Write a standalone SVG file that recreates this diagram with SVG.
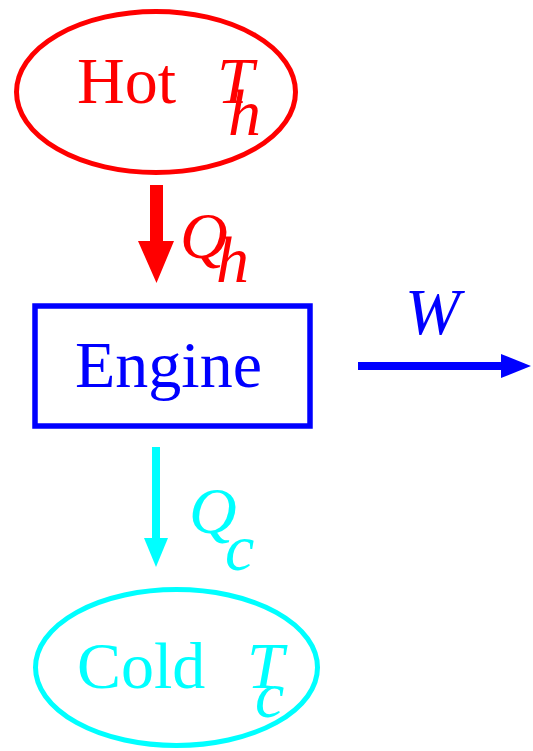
<svg xmlns="http://www.w3.org/2000/svg" width="533" height="751" viewBox="0 0 533 751">
<style>
text{font-family:"Liberation Serif","Times New Roman",serif;font-size:66px}
.i{font-style:italic}
.r{fill:#ff0000}.b{fill:#0000ff}.c{fill:#00ffff}
</style>
<rect width="533" height="751" fill="#ffffff"/>
<g id="hot">
<ellipse cx="156" cy="92" rx="139.5" ry="80.5" fill="none" stroke="#ff0000" stroke-width="5"/>
<text class="r" x="77" y="103">Hot</text>
<text class="r i" x="217" y="103">T</text>
<text class="r i" x="228" y="135">h</text>
</g>
<g id="engine">
<rect x="35" y="306" width="275" height="120" fill="none" stroke="#0000ff" stroke-width="5.5"/>
<text class="b" x="75" y="387">Engine</text>
</g>
<g id="cold">
<ellipse cx="176.5" cy="667.5" rx="141" ry="78" fill="none" stroke="#00ffff" stroke-width="5"/>
<text class="c" x="77" y="688">Cold</text>
<text class="c i" x="247" y="688">T</text>
<text class="c i" x="255" y="717">c</text>
</g>
<g id="connectors">
<path d="M150,185 H163 V241 H174 L156.5,283 L138,241 H150 Z" fill="#ff0000"/>
<text class="r i" x="180" y="258">Q</text>
<text class="r i" x="216" y="282">h</text>
<path d="M358,366 H503" stroke="#0000ff" stroke-width="8"/>
<path d="M501,354 L531,366 L501,378 Z" fill="#0000ff"/>
<text class="b i" x="405" y="334">W</text>
<path d="M156,447 V540" stroke="#00ffff" stroke-width="8"/>
<path d="M144,538 L168,538 L156,567 Z" fill="#00ffff"/>
<text class="c i" x="189" y="533">Q</text>
<text class="c i" x="225" y="570">c</text>
</g>
</svg>
